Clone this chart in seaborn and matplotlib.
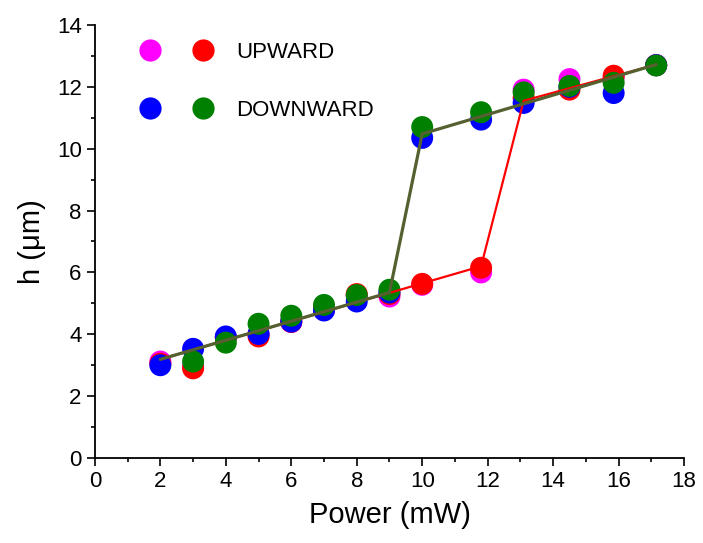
import matplotlib
matplotlib.use("Agg")
import matplotlib.pyplot as plt
import seaborn as sns
import pandas as pd
from matplotlib.lines import Line2D
from matplotlib.legend_handler import HandlerTuple

# ---- data ----
power = [2, 3, 4, 5, 6, 7, 8, 9, 10, 11.8, 13.1, 14.5, 15.85, 17.15]
up_a = [3.12, 2.95, 3.9, 4.0, 4.4, 4.8, 5.25, 5.22, 5.6, 6.0, 11.91, 12.25, 12.3, 12.7]     # magenta
up_b = [3.05, 2.9, 3.9, 3.93, 4.4, 4.8, 5.3, 5.3, 5.63, 6.15, 11.64, 11.91, 12.36, 12.7]   # red
down_a = [3.0, 3.53, 3.93, 4.01, 4.41, 4.77, 5.06, 5.35, 10.35, 10.94, 11.48, 12.0, 11.8, 12.7]  # blue
power_g = [3, 4, 5, 6, 7, 8, 9, 10, 11.8, 13.1, 14.5, 15.85, 17.15]
down_b = [3.12, 3.73, 4.34, 4.6, 4.95, 5.27, 5.44, 10.7, 11.18, 11.82, 12.03, 12.13, 12.69]   # green

up_line_x = [2, 11.8, 13.1, 17.15]
up_line_y = [3.19, 6.2, 11.55, 12.72]
down_line_x = [2, 9, 10, 17.15]
down_line_y = [3.19, 5.35, 10.48, 12.72]

xticks = list(range(0, 19, 2))
yticks = list(range(0, 15, 2))

# ---- style ----
sns.set_style("ticks")
plt.rcParams['font.family'] = ['Liberation Sans', 'DejaVu Sans']
plt.rcParams['text.color'] = 'black'
plt.rcParams['axes.labelcolor'] = 'black'

fig = plt.figure(figsize=(7.03, 5.43), dpi=100)
ax = fig.add_axes([0.135, 0.1565, 0.838, 0.7975])

ms = 250
sns.scatterplot(x=power, y=up_a, color='#FF00FF', s=ms, edgecolor='none', ax=ax, zorder=2)
sns.scatterplot(x=power, y=up_b, color='#FF0000', s=ms, edgecolor='none', ax=ax, zorder=3)
sns.scatterplot(x=power, y=down_a, color='#0000FF', s=ms, edgecolor='none', ax=ax, zorder=4)
sns.scatterplot(x=power_g, y=down_b, color='#008000', s=ms, edgecolor='none', ax=ax, zorder=5)

sns.lineplot(x=up_line_x, y=up_line_y, sort=False, color='#FF0000', linewidth=1.6, ax=ax, zorder=6)
sns.lineplot(x=down_line_x, y=down_line_y, sort=False, color='#556030', linewidth=2.3, ax=ax, zorder=7)

ax.set_xlim(0, 18)
ax.set_ylim(0, 14)
ax.set_xticks(xticks)
ax.set_yticks(yticks)
ax.set_xticks(range(1, 18, 2), minor=True)
ax.set_yticks(range(1, 14, 2), minor=True)
ax.tick_params(axis='both', which='major', direction='out', length=6, width=1.2, labelsize=16,
               colors='black', labelcolor='black')
ax.tick_params(axis='both', which='minor', direction='out', length=3, width=1.2, colors='black')
for s in ['top', 'right']:
    ax.spines[s].set_visible(False)
for s in ['left', 'bottom']:
    ax.spines[s].set_linewidth(1.3)
    ax.spines[s].set_color('black')

ax.set_xlabel('Power (mW)', fontsize=21, labelpad=6)
ax.set_ylabel('h (μm)', fontsize=21, labelpad=8)

def mk(c):
    return Line2D([], [], marker='o', linestyle='none', markersize=16, markerfacecolor=c, markeredgecolor='none')

handles = [(mk('#FF00FF'), mk('#FF0000')), (mk('#0000FF'), mk('#008000'))]
leg = ax.legend(handles, ['UPWARD', 'DOWNWARD'], handler_map={tuple: HandlerTuple(ndivide=None, pad=0.7)},
                loc='upper left', bbox_to_anchor=(0.063, 0.961), frameon=False, fontsize=16,
                handlelength=4, handletextpad=0.7, labelspacing=1.67, borderpad=0, borderaxespad=0)
for t in leg.get_texts():
    t.set_color('black')

fig.savefig('out.png', dpi=100)
